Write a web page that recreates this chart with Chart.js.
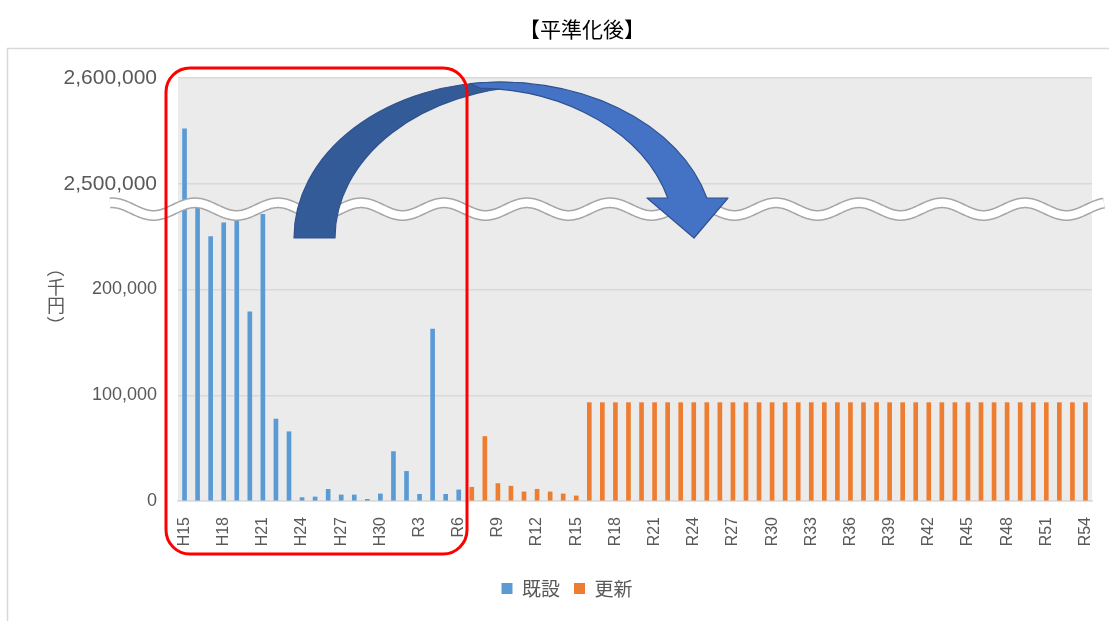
<!DOCTYPE html>
<html><head><meta charset="utf-8">
<script src="https://cdn.jsdelivr.net/npm/chart.js@4"></script>
<style>html,body{margin:0;padding:0;background:#fff;}canvas{display:block;}</style>
</head><body>
<canvas id="c" width="1109" height="621"></canvas>
<script>
// ---- data (千円) ----
const categories = ['H15','H16','H17','H18','H19','H20','H21','H22','H23','H24','H25','H26','H27','H28','H29','H30',
  'R1','R2','R3','R4','R5','R6','R7','R8','R9','R10','R11','R12','R13','R14','R15','R16','R17','R18','R19','R20',
  'R21','R22','R23','R24','R25','R26','R27','R28','R29','R30','R31','R32','R33','R34','R35','R36','R37','R38','R39','R40',
  'R41','R42','R43','R44','R45','R46','R47','R48','R49','R50','R51','R52','R53','R54'];
const existingValues = [2552000,280000,250000,263000,265000,179000,271000,77500,65500,3200,3800,11000,5700,5700,1600,6700,
  46700,28000,6300,162500,6300,10500,null,null,null,null,null,null,null,null,null,null,null,null,null,null,
  null,null,null,null,null,null,null,null,null,null,null,null,null,null,null,null,null,null,null,null,
  null,null,null,null,null,null,null,null,null,null,null,null,null,null];
const renewalValues = [null,null,null,null,null,null,null,null,null,null,null,null,null,null,null,null,
  null,null,null,null,null,null,13000,61000,16500,14000,8600,11100,8600,6700,4800,93000,93000,93000,93000,93000,
  93000,93000,93000,93000,93000,93000,93000,93000,93000,93000,93000,93000,93000,93000,93000,93000,93000,93000,93000,93000,
  93000,93000,93000,93000,93000,93000,93000,93000,93000,93000,93000,93000,93000,93000];
const seriesNames = ['既設','更新'];
const yTickValues = [0,100000,200000,300000,400000];
const yTickLabels = ['0','100,000','200,000','2,500,000','2,600,000'];
const chartTitle = '【平準化後】';
const yAxisTitle = ['（','千','円','）'];

// broken axis: real values >= 2,400,000 are shifted down by 2,200,000
const BREAK_SHIFT = 2200000;
function toAxis(v){ return v == null ? null : (v >= 2400000 ? v - BREAK_SHIFT : v); }

const GRAY = '#595959';

const decor = {
  id: 'decor',
  beforeDraw(chart){
    const ctx = chart.ctx, a = chart.chartArea;
    ctx.save();
    ctx.fillStyle = '#fff';
    ctx.fillRect(0,0,chart.width,chart.height);
    ctx.strokeStyle = '#d9d9d9'; ctx.lineWidth = 1.5;
    ctx.strokeRect(7.5, 48.5, 1300, 800);
    ctx.fillStyle = '#ebebeb';
    ctx.fillRect(a.left, a.top, a.right - a.left, a.bottom - a.top);
    // title
    ctx.fillStyle = '#000';
    ctx.font = '21px "Noto Sans CJK JP"';
    ctx.textAlign = 'center'; ctx.textBaseline = 'middle';
    ctx.fillText(chartTitle, 582, 29);
    ctx.restore();
  },
  afterDraw(chart){
    const ctx = chart.ctx, ys = chart.scales.y;
    ctx.save();
    // wave break
    const cy = ys.getPixelForValue(276000);
    const wave = () => {
      ctx.beginPath();
      for (let x = 110; x <= 1104; x += 1) {
        const y = cy - 6.3 * Math.cos(2 * Math.PI * (x - 195) / 83);
        if (x === 110) ctx.moveTo(x, y); else ctx.lineTo(x, y);
      }
    };
    ctx.lineCap = 'butt'; ctx.lineJoin = 'round';
    wave(); ctx.strokeStyle = '#a6a6a6'; ctx.lineWidth = 11; ctx.stroke();
    wave(); ctx.strokeStyle = '#ffffff'; ctx.lineWidth = 8; ctx.stroke();

    // curved arrow
    const base = 238;
    ctx.lineWidth = 1.2; ctx.strokeStyle = '#2f528f';
    ctx.beginPath();
    ctx.ellipse(500, base, 206, 156, 0, Math.PI, 2*Math.PI - Math.acos(30/206), false);
    ctx.ellipse(540, base, 205, 152, 0, 2*Math.PI - Math.acos(-10/205), Math.PI, true);
    ctx.closePath();
    ctx.fillStyle = '#335b97'; ctx.fill(); ctx.stroke();
    ctx.beginPath();
    ctx.ellipse(500, base, 214, 156, 0, 2*Math.PI - Math.acos(-30/214), 2*Math.PI - Math.asin(40/156), false);
    ctx.lineTo(728, 198);
    ctx.lineTo(694, 238);
    ctx.lineTo(647, 198);
    ctx.ellipse(475, base, 200, 150, 0, 2*Math.PI - Math.asin(40/150), 2*Math.PI - Math.acos(5/200), true);
    ctx.closePath();
    ctx.fillStyle = '#4472c4'; ctx.fill(); ctx.stroke();

    // red rounded box
    ctx.beginPath();
    ctx.roundRect(166, 68, 301, 486, 24);
    ctx.strokeStyle = '#ff0000'; ctx.lineWidth = 3; ctx.stroke();

    // vertical y-axis title (upright CJK, rotated brackets)
    ctx.fillStyle = GRAY;
    ctx.font = '18px "Noto Sans CJK JP"';
    ctx.textAlign = 'center'; ctx.textBaseline = 'middle';
    const ys0 = [268, 287.5, 305.5, 325];
    yAxisTitle.forEach((ch, i) => {
      if (i === 0 || i === 3) {
        ctx.save(); ctx.translate(56, ys0[i]); ctx.rotate(Math.PI / 2);
        ctx.fillText(ch, 0, 0); ctx.restore();
      } else {
        ctx.fillText(ch, 56, ys0[i]);
      }
    });
    ctx.restore();
  }
};

new Chart(document.getElementById('c'), {
  type: 'bar',
  data: {
    labels: categories,
    datasets: [
      { label: seriesNames[0], data: existingValues.map(toAxis), backgroundColor: '#5b9bd5', barThickness: 4, grouped: false },
      { label: seriesNames[1], data: renewalValues.map(toAxis), backgroundColor: '#ed7d31', barThickness: 4, grouped: false }
    ]
  },
  options: {
    responsive: false,
    animation: false,
    devicePixelRatio: 1,
    layout: { padding: { left: 42, right: 17, top: 78, bottom: 13 } },
    plugins: {
      tooltip: { enabled: false },
      title: { display: false },
      legend: {
        position: 'bottom',
        labels: {
          boxWidth: 11, boxHeight: 11, padding: 14, color: GRAY,
          font: { family: '"Noto Sans CJK JP"', size: 19 }
        }
      }
    },
    scales: {
      x: {
        grid: { display: false, drawTicks: false },
        border: { display: true, color: '#d9d9d9', width: 1.5 },
        ticks: {
          autoSkip: false, minRotation: 90, maxRotation: 90, padding: 16, color: GRAY,
          font: { family: '"Liberation Sans"', size: 16 },
          callback: (v, i) => (i % 3 === 0 ? categories[i] : '')
        },
        afterFit: s => { s.height = 64; s.paddingLeft = 0; s.paddingRight = 0; }
      },
      y: {
        min: 0, max: 400000,
        afterBuildTicks: s => { s.ticks = yTickValues.map(v => ({ value: v })); },
        grid: { color: '#d9d9d9', lineWidth: 1.5, drawTicks: false },
        border: { display: false },
        ticks: {
          padding: 21, color: GRAY,
          font: c => ({ family: '"Liberation Sans"', size: (c.tick && c.tick.value >= 300000) ? 21 : 18 }),
          callback: v => yTickLabels[yTickValues.indexOf(v)]
        },
        afterFit: s => { s.width = 136; s.paddingTop = 0; s.paddingBottom = 0; }
      }
    }
  },
  plugins: [decor]
});
</script>
</body></html>
